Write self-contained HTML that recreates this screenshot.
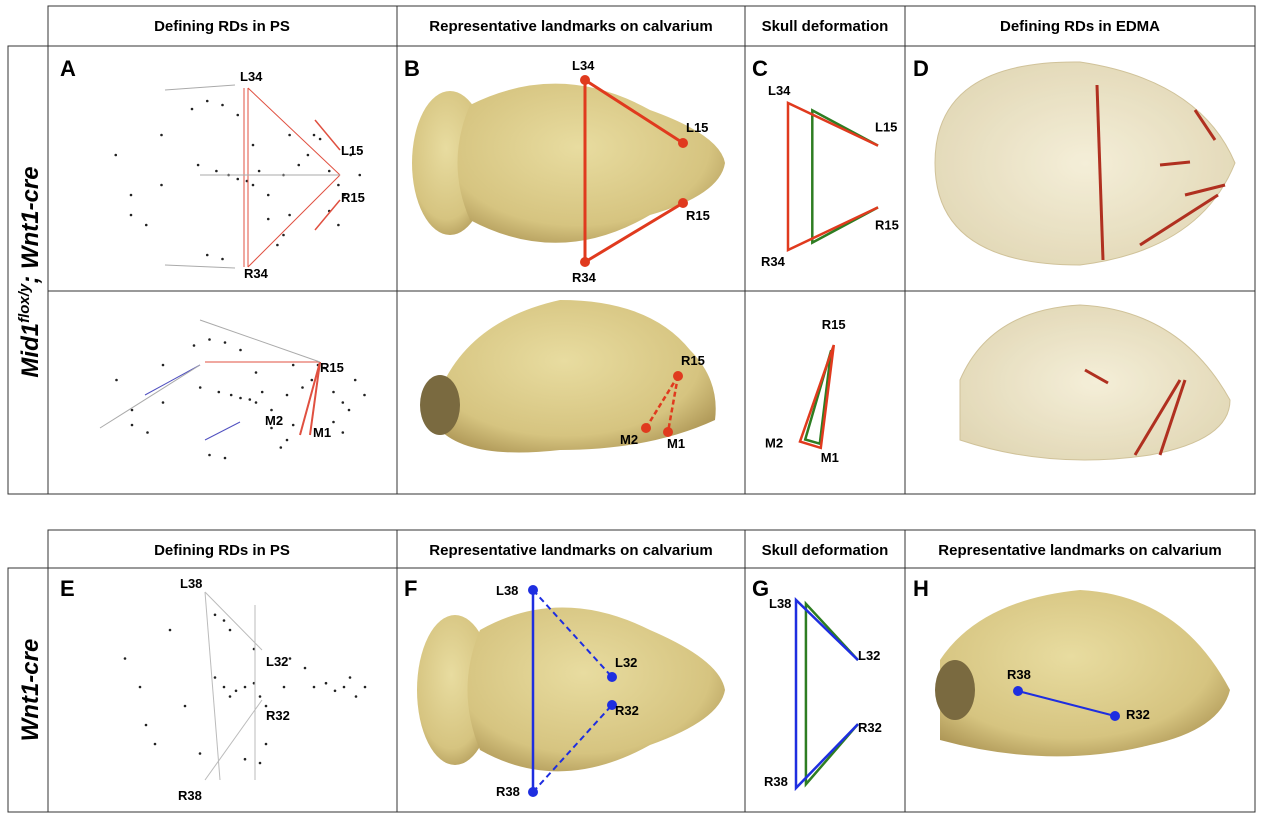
<!DOCTYPE html>
<html><head><meta charset="utf-8"><style>
body{margin:0;background:#fff;font-family:"Liberation Sans",sans-serif}
svg text{font-family:"Liberation Sans",sans-serif}
</style></head><body>
<svg id="fig" width="1267" height="814" viewBox="0 0 1267 814" xmlns="http://www.w3.org/2000/svg">
<defs>
<radialGradient id="bone" cx="0.45" cy="0.4" r="0.7">
<stop offset="0" stop-color="#e8dca0"/><stop offset="0.7" stop-color="#d6c480"/><stop offset="1" stop-color="#a89050"/></radialGradient>
<radialGradient id="glass" cx="0.5" cy="0.5" r="0.6">
<stop offset="0" stop-color="#f3ecd2"/><stop offset="1" stop-color="#dcd0a8"/></radialGradient>
</defs>
<g stroke="#333" stroke-width="1" fill="none">
<rect x="8" y="46" width="40" height="448"/>
<rect x="48" y="6" width="1207" height="488"/>
<line x1="48" y1="46" x2="1255" y2="46"/><line x1="48" y1="291" x2="1255" y2="291"/>
<line x1="397" y1="6" x2="397" y2="494"/><line x1="745" y1="6" x2="745" y2="494"/><line x1="905" y1="6" x2="905" y2="494"/>
<rect x="8" y="568" width="40" height="244"/>
<rect x="48" y="530" width="1207" height="282"/>
<line x1="48" y1="568" x2="1255" y2="568"/>
<line x1="397" y1="530" x2="397" y2="812"/><line x1="745" y1="530" x2="745" y2="812"/><line x1="905" y1="530" x2="905" y2="812"/>
</g>
<g font-weight="bold" font-size="15" text-anchor="middle" fill="#000">
<text x="222" y="31">Defining RDs in PS</text><text x="571" y="31">Representative landmarks on calvarium</text>
<text x="825" y="31">Skull deformation</text><text x="1080" y="31">Defining RDs in EDMA</text>
<text x="222" y="555">Defining RDs in PS</text><text x="571" y="555">Representative landmarks on calvarium</text>
<text x="825" y="555">Skull deformation</text><text x="1080" y="555">Representative landmarks on calvarium</text>
</g>
<text transform="translate(38,272) rotate(-90)" font-size="24" font-weight="bold" font-style="italic" text-anchor="middle">Mid1<tspan font-size="15" dy="-9">flox/y</tspan><tspan dy="9">; Wnt1-cre</tspan></text>
<text transform="translate(38,690) rotate(-90)" font-size="24" font-weight="bold" font-style="italic" text-anchor="middle">Wnt1-cre</text>
<g font-size="22" font-weight="bold">
<text x="60" y="76">A</text><text x="404" y="76">B</text><text x="752" y="76">C</text><text x="913" y="76">D</text>
<text x="60" y="596">E</text><text x="404" y="596">F</text><text x="752" y="596">G</text><text x="913" y="596">H</text>
</g>
<g>
<ellipse cx="450" cy="163" rx="38" ry="72" fill="url(#bone)"/>
<path d="M470,105 Q560,60 650,110 Q720,135 725,163 Q720,195 650,215 Q560,268 470,220 Q445,163 470,105Z" fill="url(#bone)"/>
</g>
<g>
<path d="M440,390 Q470,320 560,300 Q650,300 690,350 Q720,380 715,420 Q650,450 560,450 Q470,460 440,430Z" fill="url(#bone)"/>
<ellipse cx="440" cy="405" rx="20" ry="30" fill="#7a6a40"/>
</g>
<g opacity="0.85">
<path d="M935,163 Q935,60 1080,62 Q1200,80 1235,163 Q1200,250 1080,265 Q935,265 935,163Z" fill="url(#glass)" stroke="#c8b888"/>
</g>
<g opacity="0.85">
<path d="M960,380 Q990,310 1080,305 Q1180,310 1230,400 Q1230,440 1150,455 Q1050,470 960,440Z" fill="url(#glass)" stroke="#c8b888"/>
</g>
<g>
<ellipse cx="455" cy="690" rx="38" ry="75" fill="url(#bone)"/>
<path d="M480,630 Q560,585 650,630 Q720,660 725,690 Q720,720 650,745 Q560,795 480,750 Q455,690 480,630Z" fill="url(#bone)"/>
</g>
<g>
<path d="M940,660 Q980,600 1080,590 Q1180,595 1230,690 Q1220,730 1150,745 Q1050,770 940,740Z" fill="url(#bone)"/>
<ellipse cx="955" cy="690" rx="20" ry="30" fill="#7a6a40"/>
</g>
<g id="marks"></g>
</svg>
<script>
const cLabels=["L34","L15","R15","R34"];
const cMutantX=[0,100,100,0]; const cMutantY=[0,29,71,100];
const cWtX=[27,100,100,27]; const cWtY=[5,29,71,95];
const c2Labels=["R15","M2","M1"];
const c2MutX=[65,0,40]; const c2MutY=[0,92,98];
const c2WtX=[60,10,38]; const c2WtY=[5,90,94];
const gLabels=["L38","L32","R32","R38"];
const gMutX=[0,100,100,0]; const gMutY=[0,32,66,100];
const gWtX=[16,100,100,16]; const gWtY=[2,32,66,98];
const aX=[45,50,40,15,20,25,30,42,48,52,55,58,60,62,65,70,72,75,78,80,82,85,88,90,92,95,55,60,65,70,20,30,45,50,68,72,85,88];
const aY=[13,15,17,40,60,75,30,45,48,50,52,53,55,48,60,50,70,45,40,30,32,48,55,60,40,50,20,35,72,80,70,55,90,92,85,30,68,75];
const eX=[45,48,50,15,20,25,35,45,48,50,52,55,58,60,62,70,75,78,82,85,88,90,92,95,30,40,55,62,68,22,58,60];
const eY=[12,15,20,35,50,80,60,45,50,55,52,50,48,55,60,35,40,50,48,52,50,45,55,50,20,85,88,80,50,70,30,90];

const svg=document.getElementById('marks');
const NS="http://www.w3.org/2000/svg";
function el(t,a){const e=document.createElementNS(NS,t);for(const k in a)e.setAttribute(k,a[k]);svg.appendChild(e);return e;}
function sc(x0,w){return v=>x0+v/100*w;}
function poly(xs,ys,sx,sy,color,name,order,closed){
  const pts=order.map(i=>sx(xs[i])+','+sy(ys[i])).join(' ');
  const p=el(closed?'polygon':'polyline',{points:pts,fill:'none',stroke:color,'stroke-width':2.5});
  
  
}
function labels(lb,xs,ys,sx,sy,dx,dy,name){
  lb.forEach((t,i)=>{const e=el('text',{x:sx(xs[i])+dx[i],y:sy(ys[i])+dy[i],'font-size':13,'font-weight':'bold'});e.textContent=t;
  
  });
}
let sx=sc(788,90), sy=sc(103,147);
poly(cWtX,cWtY,sx,sy,'#2e7d22','c-wt-shape',[1,0,3,2]);
poly(cMutantX,cMutantY,sx,sy,'#e03a1e','c-mutant-shape',[1,0,3,2]);
labels(cLabels,cMutantX,cMutantY,sx,sy,[-20,-3,-3,-27],[-8,-14,22,16],'c-label');
sx=sc(800,52); sy=sc(345,105);
poly(c2WtX,c2WtY,sx,sy,'#2e7d22','c2-wt-shape',[0,1,2],true);
poly(c2MutX,c2MutY,sx,sy,'#e03a1e','c2-mutant-shape',[0,1,2],true);
labels(c2Labels,c2MutX,c2MutY,sx,sy,[-12,-35,0],[-16,6,14],'c2-label');
sx=sc(796,62); sy=sc(600,188);
poly(gWtX,gWtY,sx,sy,'#2e7d22','g-wt-shape',[1,0,3,2]);
poly(gMutX,gMutY,sx,sy,'#1e2ee0','g-mutant-shape',[1,0,3,2]);
labels(gLabels,gMutX,gMutY,sx,sy,[-27,0,0,-32],[8,0,8,-2],'g-label');
function scatter(xs,ys,sx,sy,name){xs.forEach((x,i)=>{const c=el('circle',{cx:sx(x),cy:sy(ys[i]),r:1.3,fill:'#222'});
 
 });}
scatter(aX,aY,sc(70,305),sc(75,200),'a-landmark');
scatter(aX,aY,sc(70,310),sc(320,150),'a2-landmark');
scatter(eX,eY,sc(80,300),sc(592,190),'e-landmark');
function ln(x1,y1,x2,y2,c,w,name,dash){const l=el('line',{x1,y1,x2,y2,stroke:c,'stroke-width':w||1});if(dash)l.setAttribute('stroke-dasharray',dash);
 
 }
ln(248,88,248,267,'#e05040',1,'a-rd');ln(244,88,244,267,'#e05040',1,'a-rd');
ln(248,88,340,175,'#e05040',1,'a-rd');ln(248,267,340,175,'#e05040',1,'a-rd');
ln(315,120,340,150,'#e05040',1.5,'a-rd');ln(315,230,340,200,'#e05040',1.5,'a-rd');
ln(200,175,340,175,'#aaa',1,'a-rd');ln(165,90,235,85,'#aaa',1,'a-rd');ln(165,265,235,268,'#aaa',1,'a-rd');
ln(205,362,320,362,'#e05040',1,'a2-rd');ln(320,362,300,435,'#e05040',2,'a2-rd');ln(320,362,310,435,'#e05040',2,'a2-rd');
ln(145,395,200,365,'#5050c0',1,'a2-rd');ln(205,440,240,422,'#5050c0',1,'a2-rd');ln(200,320,320,362,'#aaa',1,'a2-rd');ln(100,428,200,365,'#aaa',1,'a2-rd');
ln(205,592,220,780,'#bbb',1,'e-rd');ln(205,592,262,650,'#bbb',1,'e-rd');ln(205,780,262,700,'#bbb',1,'e-rd');ln(255,605,255,780,'#bbb',1,'e-rd');
const rd='#e03a1e';
ln(585,80,585,262,rd,3,'b-rd');ln(585,80,683,143,rd,3,'b-rd');ln(585,262,683,203,rd,3,'b-rd');
[[585,80],[683,143],[683,203],[585,262],[678,376],[646,428],[668,432]].forEach(p=>{const c=el('circle',{cx:p[0],cy:p[1],r:5,fill:rd});
 
 });
ln(678,376,646,428,rd,2.5,'b2-rd','5,3');ln(678,376,668,432,rd,2.5,'b2-rd','5,3');
[[1097,85,1103,260],[1195,110,1215,140],[1160,165,1190,162],[1185,195,1225,185],[1140,245,1218,195],[1085,370,1108,383],[1180,380,1135,455],[1185,380,1160,455]].forEach(s=>ln(s[0],s[1],s[2],s[3],'#b03020',3,'d-rd'));
const bl='#1e2ee0';
ln(533,590,533,792,bl,2.5,'f-rd');ln(533,590,612,677,bl,2,'f-rd','6,4');ln(533,792,612,705,bl,2,'f-rd','6,4');
[[533,590],[612,677],[612,705],[533,792],[1018,691],[1115,716]].forEach(p=>{const c=el('circle',{cx:p[0],cy:p[1],r:5,fill:bl});
 
 });
ln(1018,691,1115,716,bl,2,'h-rd');
const T=[["L34",240,81],["L15",341,155],["R15",341,202],["R34",244,278],["L34",572,70],["L15",686,132],["R15",686,220],["R34",572,282],
["R15",320,372],["M2",265,425],["M1",313,437],["R15",681,365],["M2",620,444],["M1",667,448],
["L38",180,588],["L32",266,666],["R32",266,720],["R38",178,800],["L38",496,595],["L32",615,667],["R32",615,715],["R38",496,796],["R38",1007,679],["R32",1126,719]];
T.forEach(t=>{const e=el('text',{x:t[1],y:t[2],'font-size':13,'font-weight':'bold'});e.textContent=t[0];
 
 });
</script>
</body></html>
